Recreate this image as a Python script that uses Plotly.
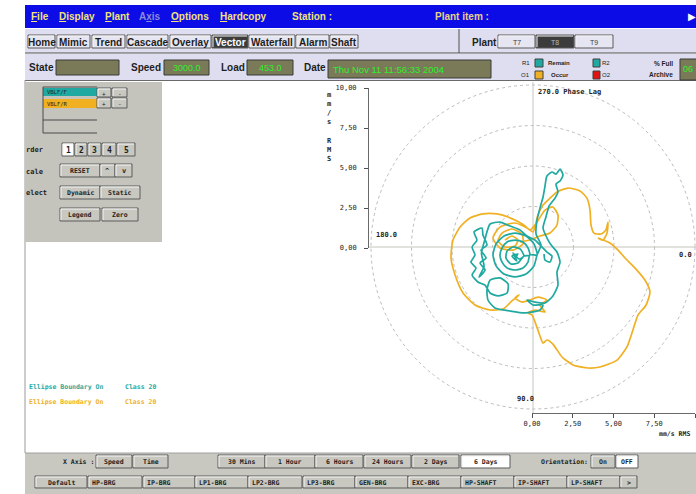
import plotly.graph_objects as go

# ---------------- data (mm/s RMS vector orbits) ----------------
r1_x = [-1.11, -0.93, -1.30, -0.99, -1.23, -0.86,
        -0.56, -0.80, -1.23, -1.60, -1.67, -1.36, -0.93, -0.56,
        -0.19, -0.31, -0.62, -1.11, -1.60, -1.91, -2.04, -1.91, -1.60, -1.11, -0.62, -0.31, -0.19,
        0.25, 0.06, -0.43, -1.11, -1.79, -2.28, -2.47, -2.28, -1.79, -1.11, -0.43, 0.06, 0.25,
        0.49, 0.19, 0.25, 0.43, 0.62, 0.74, 0.86, 1.17, 1.42, 1.67, 1.85, 1.67, 1.42, 1.54, 1.36,
        0.99, 0.80, 0.62, 0.93, 1.17, 1.48, 1.67, 1.48, 1.54, 1.23, 0.74, 0.12, -0.37, 0.00, 0.62,
        0.43, -0.49, -1.42, -2.35, -2.78, -2.84, -2.65, -2.04, -1.54, -1.60, -2.16, -2.65, -2.96,
        -3.40, -3.76, -3.52, -3.83, -3.58, -3.76, -3.46, -3.64, -3.15,
        -3.09, -2.84, -3.21, -2.90, -3.27, -2.96, -3.33, -3.02, -3.18, -2.96,
        -2.65, -2.04, -1.42, -0.80, -0.37, 0.12,
        0.86, 1.17, 1.05, 0.74, 0.68]
r1_y = [-0.68, -0.43, -0.56, -0.86, -0.37, -0.74,
        -0.56, -0.12, 0.00, -0.25, -0.68, -1.05, -0.99, -0.56,
        -0.49, -0.06, 0.31, 0.43, 0.31, -0.06, -0.49, -0.93, -1.30, -1.42, -1.30, -0.93, -0.49,
        -0.49, 0.19, 0.68, 0.86, 0.68, 0.19, -0.49, -1.17, -1.67, -1.85, -1.67, -1.17, -0.49,
        0.12, 0.80, 1.67, 2.41, 3.09, 3.76, 4.38, 4.63, 4.50, 4.81, 4.44, 4.07, 3.89, 3.40, 3.02,
        2.53, 1.85, 1.17, 0.43, 0.06, -0.31, -0.93, -1.54, -2.35, -3.02, -3.46, -3.40, -3.27, -3.58, -3.58,
        -3.89, -4.07, -3.95, -3.76, -3.27, -2.65, -2.04, -1.91, -2.28, -2.84, -3.02, -2.84, -2.35,
        -2.16, -1.73, -1.30, -0.93, -0.49, 0.00, 0.43, 0.93, 1.17,
        0.74, 0.12, -0.19, -0.68, -0.99, -1.42, -1.85, -1.20, -0.40, 0.50,
        1.42, 1.54, 1.30, 1.05, 0.68, 0.43,
        -0.31, -0.56, -0.93, -0.80, -0.43]
o1_x = [-1.73, -1.30, -0.93, -1.11, -1.73, -2.16, -1.91, -1.30, -0.68, -0.62, -1.23, -2.04, -2.47,
        -2.04, -1.11, -0.37, 0.00, 0.31, 0.62, 1.05, 1.48, 2.16, 2.90, 3.33, 3.52, 3.58, 3.76, 4.20,
        4.50, 4.63, 4.57, 4.32, 4.01, 4.75, 5.25, 5.68, 6.30, 6.91, 7.22, 6.98, 6.48, 6.17, 5.80, 5.19,
        4.14, 3.40, 2.47, 1.79, 1.23, 0.86, 0.62, 0.43, 0.19, -0.06, -0.31, 0.12, 0.74, 0.43, 0.86,
        0.31, -0.19, -0.68, -1.11, -0.86, -1.30, -1.85, -2.65, -3.58, -4.32, -4.81, -5.06, -4.94,
        -4.50, -3.89, -3.09, -2.22, -1.54, -0.99, -0.49, -0.19, 0.25, 0.74, 1.23, 1.54, 1.48, 1.05,
        0.43, -0.19, -0.80]
o1_y = [0.43, 0.68, 0.43, 0.06, 0.00, 0.37, 0.86, 1.11, 0.80, 0.19, -0.19, -0.06, 0.56,
        1.23, 1.48, 1.17, 0.93, 1.98, 2.59, 3.02, 3.40, 3.64, 3.46, 3.02, 2.28, 1.36, 0.86, 0.80,
        1.05, 1.54, 0.86, 0.43, 0.56, 0.25, -0.19, -0.68, -1.30, -2.04, -2.78, -3.58, -4.20, -5.12,
        -6.17, -6.98, -7.41, -7.47, -7.28, -6.79, -5.99, -5.74, -5.93, -5.49, -4.81, -4.20, -4.07,
        -3.89, -4.01, -3.58, -3.27, -3.09, -3.27, -3.40, -3.15, -2.96, -3.33, -3.83, -3.89, -3.58,
        -2.84, -1.73, -0.68, 0.43, 1.23, 1.79, 2.04, 2.04, 1.85, 1.60, 1.30, 1.05, 1.54, 2.28, 2.47,
        1.98, 1.36, 0.86, 0.68, 0.43, 0.31]
ring_radii = [2.5, 5.0, 7.5, 10.0]
amp_ticks = [0, 2.5, 5, 7.5, 10]
phase_labels = ["270.0 Phase Lag", "180.0", "0.0", "90.0"]
amp_unit = "mm/s RMS"

menu_items = ["<u>F</u>ile", "<u>D</u>isplay", "<u>P</u>lant", "A<u>x</u>is", "<u>O</u>ptions",
              "<u>H</u>ardcopy", "Station :"]
view_tabs = ["Home", "Mimic", "Trend", "Cascade", "Overlay", "Vector", "Waterfall", "Alarm", "Shaft"]
plant_units = ["T7", "T8", "T9"]
speed_value = "3000.0"
load_value = "453.0"
date_value = "Thu Nov 11 11:56:33 2004"
archive_value = "06"
trace_names = ["VBLF/F", "VBLF/R"]
order_buttons = ["1", "2", "3", "4", "5"]
time_spans = ["30 Mins", "1 Hour", "6 Hours", "24 Hours", "2 Days", "6 Days"]
locations = ["Default", "HP-BRG", "IP-BRG", "LP1-BRG", "LP2-BRG", "LP3-BRG", "GEN-BRG",
             "EXC-BRG", "HP-SHAFT", "IP-SHAFT", "LP-SHAFT", ">"]

# ---------------- styling / layout ----------------
W, H = 696, 494
PX = 16.2            # pixels per mm/s
CX, CY = 533, 247    # pixel position of the polar origin
TEAL = "#1fa9a1"
ORANGE = "#f0b022"
SANS = "Liberation Sans, Arial, sans-serif"
MONO = "DejaVu Sans Mono, Liberation Mono, monospace"
DARK = "#1e1e1e"

shapes, annots = [], []


def rect(x0, y0, x1, y1, fill, line=None, lw=1):
    shapes.append(dict(type="rect", xref="x", yref="y", x0=x0, y0=y0, x1=x1, y1=y1,
                       fillcolor=fill, layer="below",
                       line=dict(color=line if line else fill, width=lw if line else 0)))


def hline(x0, y0, x1, y1, color, w=1):
    shapes.append(dict(type="line", xref="x", yref="y", x0=x0, y0=y0, x1=x1, y1=y1,
                       layer="below", line=dict(color=color, width=w)))


def text(x, y, s, size=7, color=DARK, anchor="left", family=MONO):
    annots.append(dict(x=x, y=y, xref="x", yref="y", text=s, showarrow=False,
                       xanchor=anchor, yanchor="middle", borderpad=0,
                       font=dict(size=size, color=color, family=family)))


def button(x0, y0, x1, y1, label, fill="#c8c8c0", tcolor=DARK, size=7, family=MONO,
           align="center"):
    rect(x0, y0, x1, y1, fill, "#5a5a5a")
    hline(x0 + 1, y0 + 1, x1 - 1, y0 + 1, "#f4f4f4")
    hline(x0 + 1, y0 + 1, x0 + 1, y1 - 1, "#f4f4f4")
    if align == "center":
        text((x0 + x1) / 2, (y0 + y1) / 2 + 0.5, label, size, tcolor, "center", family)
    else:
        text(x0 + 3, (y0 + y1) / 2 + 0.5, label, size, tcolor, "left", family)


# menu bar
rect(25, 5, W, 28, "#0c0ce6")
menu_x = [30, 58, 104, 138, 170, 219, 291]
for s, x in zip(menu_items, menu_x):
    col = "#8a8ad8" if "x</u>is" in s else "#f2e27a"
    text(x, 16.5, "<b>" + s + "</b>", 10, col, "left", SANS)
text(434, 16.5, "<b>Plant item :</b>", 10, "#e8d28a", "left", SANS)
text(692, 16.5, "▶", 10, "#ffffff", "center", SANS)

# tab row
rect(25, 29, W, 53, "#dedef0")
hline(25, 53, W, 53, "#505050")
hline(459, 29, 459, 53, "#505050")
tab_pos = [(28, 55), (57, 90), (92, 125), (127, 168), (170, 211), (212, 248),
           (249, 295), (296, 329), (330, 358)]
for s, (a, b) in zip(view_tabs, tab_pos):
    if s == "Vector":
        button(a, 35, b, 48, "<b>" + s + "</b>", "#3c3c3c", "#ffffff", 10, SANS)
    else:
        button(a, 35, b, 48, "<b>" + s + "</b>", "#e6e6f2", DARK, 10, SANS)
text(471, 42, "<b>Plant</b>", 10, DARK, "left", SANS)
for s, (a, b) in zip(plant_units, [(498, 535), (536, 574), (575, 613)]):
    if s == "T8":
        button(a, 35, b, 48, s, "#3c3c3c", "#b8b8b8", 7, SANS)
    else:
        button(a, 35, b, 48, s, "#e6e6f2", "#404040", 7, SANS)

# status row
rect(25, 54, W, 80, "#dedef0")
hline(25, 80.5, W, 80.5, "#6a6a6a")
BOX = "#7a7a58"
GREEN = "#2cf02c"
text(28, 67.5, "<b>State</b>", 10, DARK, "left", SANS)
rect(56, 60, 119, 75, BOX, "#3a3a3a")
text(130, 67.5, "<b>Speed</b>", 10, DARK, "left", SANS)
rect(164, 60, 209, 75, BOX, "#3a3a3a")
text(186.5, 68, speed_value, 9, GREEN, "center", SANS)
text(220, 67.5, "<b>Load</b>", 10, DARK, "left", SANS)
rect(247, 60, 293, 75, BOX, "#3a3a3a")
text(270, 68, load_value, 9, GREEN, "center", SANS)
text(303, 67.5, "<b>Date</b>", 10, DARK, "left", SANS)
rect(328, 60, 491, 78, BOX, "#3a3a3a")
text(332, 69, date_value, 9.5, GREEN, "left", SANS)
text(531, 63, "R1", 6, DARK, "right", SANS)
rect(535, 59, 543, 67, TEAL, "#404040")
text(531, 75, "O1", 6, DARK, "right", SANS)
rect(535, 71, 543, 79, ORANGE, "#404040")
text(559, 63, "<b>Remain</b>", 6, DARK, "center", SANS)
text(560, 75, "<b>Occur</b>", 6, DARK, "center", SANS)
rect(593, 59, 600, 67, TEAL, "#404040")
text(601, 63, "R2", 6, DARK, "left", SANS)
rect(593, 71, 600, 79, "#e01414", "#404040")
text(601, 75, "O2", 6, DARK, "left", SANS)
text(674, 63, "<b>% Full</b>", 6.5, DARK, "right", SANS)
text(674, 74, "<b>Archive</b>", 6.5, DARK, "right", SANS)
rect(680, 59, 700, 80, BOX, "#3a3a3a")
text(682, 69, archive_value, 9, GREEN, "left", SANS)

# main area frame
hline(25, 80, 25, 453, "#9a9a9a")

# left control panel
rect(25, 82, 162, 242, "#c4c4bc")
rect(43, 88, 97, 96, TEAL)
text(46, 92, trace_names[0], 5.5, DARK, "left", MONO)
rect(43, 99, 97, 108, ORANGE)
text(46, 103.5, trace_names[1], 5.5, DARK, "left", MONO)
hline(43, 87, 43, 133, "#4a4a4a")
hline(43, 120, 97, 120, "#4a4a4a")
hline(43, 133, 97, 133, "#4a4a4a")
hline(43, 87, 97, 87, "#4a4a4a")
for (y0, y1) in [(88, 97), (98, 108)]:
    button(97, y0, 111, y1, "+", "#c8c8c0", DARK, 6)
    button(112, y0, 127, y1, "-", "#c8c8c0", DARK, 6)
text(25, 150, "<b>rder</b>", 7)
order_pos = [(62, 74), (75, 87), (88, 101), (102, 116), (117, 135)]
for s, (a, b) in zip(order_buttons, order_pos):
    button(a, 143, b, 156, "<b>" + s + "</b>", "#ffffff" if s == "1" else "#c8c8c0", DARK, 8)
text(25, 172, "<b>cale</b>", 7)
button(60, 164, 100, 177, "<b>RESET</b>", size=6.5)
button(100, 164, 115, 177, "<b>^</b>", size=7)
button(115, 164, 132, 177, "<b>v</b>", size=7)
text(25, 193, "<b>elect</b>", 7)
button(60, 186, 100, 199, "<b>Dynamic</b>", size=6.5)
button(100, 186, 140, 199, "<b>Static</b>", size=6.5)
button(60, 208, 100, 221, "<b>Legend</b>", size=6.5)
button(102, 208, 138, 221, "<b>Zero</b>", size=6.5)

# ellipse boundary notes
text(28, 387, "<b>Ellipse Boundary On</b>", 6.5, TEAL)
text(124, 387, "<b>Class 20</b>", 6.5, TEAL)
text(28, 402, "<b>Ellipse Boundary On</b>", 6.5, ORANGE)
text(124, 402, "<b>Class 20</b>", 6.5, ORANGE)

# bottom control panel
rect(25, 453, W, H, "#c8c8c0")
hline(25, 453, W, 453, "#a0a0a0")
text(95, 461.5, "<b>X Axis :</b>", 6.5, DARK, "right")
button(96, 455, 132, 468, "<b>Speed</b>", size=6.5)
button(133, 455, 168, 468, "<b>Time</b>", size=6.5)
time_pos = [(218, 265), (265, 315), (315, 363), (364, 411), (412, 459), (461, 510)]
for s, (a, b) in zip(time_spans, time_pos):
    button(a, 455, b, 468, "<b>" + s + "</b>", "#ffffff" if s == "6 Days" else "#c8c8c0", DARK, 6.5)
text(540, 462, "<b>Orientation:</b>", 6.5)
button(591, 455, 615, 468, "<b>On</b>", size=6.5)
button(616, 455, 638, 468, "<b>OFF</b>", "#ffffff", DARK, 6.5)
loc_pos = [(35, 87), (88, 142), (143, 195), (195, 248), (248, 302), (303, 355), (355, 408),
           (408, 461), (461, 514), (514, 567), (567, 620), (620, 637)]
for s, (a, b) in zip(locations, loc_pos):
    al = "center" if s in ("Default", ">") else "left"
    button(a, 476, b, 488, "<b>" + s + "</b>", "#c8c8c0", DARK, 6.5, MONO, al)

# polar grid (in mm/s units)
for r in ring_radii:
    shapes.append(dict(type="circle", xref="x2", yref="y2", x0=-r, y0=-r, x1=r, y1=r,
                       line=dict(color="#bcbcbc", width=1, dash="dot"), layer="below"))
shapes.append(dict(type="line", xref="x2", yref="y2", x0=0, x1=0, y0=-(413 - CY) / PX,
                   y1=(CY - 82) / PX, line=dict(color="#c4c4bc", width=1), layer="below"))
shapes.append(dict(type="line", xref="x2", yref="y2", y0=0, y1=0, x0=-(CX - 368) / PX,
                   x1=(W - CX) / PX, line=dict(color="#c4c4bc", width=1), layer="below"))

text(537, 92, "<b>" + phase_labels[0] + "</b>", 7)
text(375, 235, "<b>" + phase_labels[1] + "</b>", 7)
text(678, 255, "<b>" + phase_labels[2] + "</b>", 7)
text(516, 399, "<b>" + phase_labels[3] + "</b>", 7)
text(658, 434, "<b>" + amp_unit + "</b>", 6.5)
annots.append(dict(x=329, y=127, xref="x", yref="y", showarrow=False, xanchor="center",
                   yanchor="middle", text="<b>m<br>m<br>/<br>s<br> <br>R<br>M<br>S</b>",
                   font=dict(size=7, color=DARK, family=MONO)))

fig = go.Figure()
# hidden pixel frame for GUI furniture
fig.add_trace(go.Scatter(x=[0, W], y=[0, H], mode="markers", marker=dict(opacity=0),
                         hoverinfo="skip", showlegend=False, xaxis="x", yaxis="y"))
# orbit traces
fig.add_trace(go.Scatter(x=o1_x, y=o1_y, mode="lines",
                         line=dict(color=ORANGE, width=1.7, shape="spline", smoothing=0.6),
                         name="O1", showlegend=False, xaxis="x2", yaxis="y2"))
fig.add_trace(go.Scatter(x=r1_x, y=r1_y, mode="lines",
                         line=dict(color=TEAL, width=1.7, shape="spline", smoothing=0.6),
                         name="R1", showlegend=False, xaxis="x2", yaxis="y2"))
# amplitude scale axes
fig.add_trace(go.Scatter(x=amp_ticks, y=amp_ticks, mode="markers", marker=dict(opacity=0),
                         hoverinfo="skip", showlegend=False, xaxis="x3", yaxis="y3"))

axfont = dict(size=7, color=DARK, family=MONO)
fig.update_layout(
    width=W, height=H, margin=dict(l=0, r=0, t=0, b=0),
    paper_bgcolor="#ffffff", plot_bgcolor="rgba(0,0,0,0)",
    separators=",.", showlegend=False, hovermode=False,
    shapes=shapes, annotations=annots,
    xaxis=dict(range=[0, W], domain=[0, 1], visible=False, fixedrange=True),
    yaxis=dict(range=[H, 0], domain=[0, 1], visible=False, fixedrange=True),
    xaxis2=dict(range=[-CX / PX, (W - CX) / PX], overlaying="x", anchor="y2", visible=False),
    yaxis2=dict(range=[-(H - CY) / PX, CY / PX], overlaying="y", anchor="x2", visible=False),
    xaxis3=dict(range=[0, 10], domain=[532 / W, 695 / W], anchor="free", position=1 - 413 / H,
                tickvals=amp_ticks, tickformat=".2f", ticks="outside", ticklen=4,
                tickcolor="#505050", showline=True, linecolor="#6a6a6a", showgrid=False,
                zeroline=False, tickfont=axfont, automargin=False),
    yaxis3=dict(range=[0, 10], domain=[1 - 248 / H, 1 - 88 / H], anchor="free",
                position=368 / W, tickvals=amp_ticks, tickformat=".2f", ticks="outside",
                ticklen=4, tickcolor="#505050", showline=True, linecolor="#6a6a6a",
                showgrid=False, zeroline=False, tickfont=axfont, automargin=False,
                ticklabelstandoff=6),
)

fig.write_html("out.html", config={"displayModeBar": False},
               post_script="document.body.style.margin='0px';")
